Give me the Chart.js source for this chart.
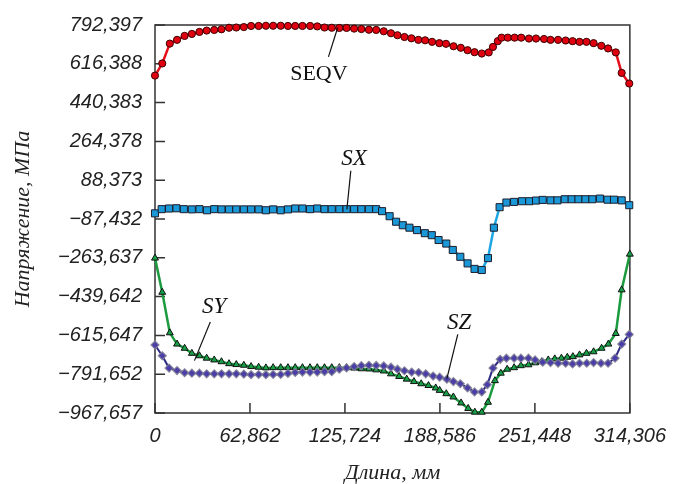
<!DOCTYPE html>
<html>
<head>
<meta charset="utf-8">
<script src="https://cdn.jsdelivr.net/npm/chart.js@4.4.0/dist/chart.umd.min.js"></script>
<style>
  html, body { margin: 0; padding: 0; background: #fff; }
  #wrap { width: 677px; height: 484px; }
</style>
</head>
<body>
<div id="wrap"><canvas id="stressChart" width="677" height="484"></canvas></div>
<script>
// tick labels as printed on the original figure
const xTickLabels = ['0', '62,862', '125,724', '188,586', '251,448', '314,306'];
const yTickLabels = ['−967,657', '−791,652', '−615,647', '−439,642', '−263,637', '−87,432',
                     '88,373', '264,378', '440,383', '616,388', '792,397'];
const xMin = 0, xMax = 314.306;
const yMin = -967.657, yMax = 792.397;

// SEQV
const seqvX = [0, 4.8, 9.8, 14.6, 19.6, 24.4, 29.4, 34.2, 39.2, 44.0, 49.0, 53.8, 58.8, 63.6, 68.6,
  73.4, 78.2, 83.2, 88.0, 92.8, 97.6, 102.7, 107.4, 112.2, 117.0, 122.0, 126.8, 131.8, 136.6, 141.6,
  146.4, 151.4, 156.2, 160.5, 165.1, 169.7, 174.3, 178.8, 183.4, 188.2, 192.6, 197.6, 202.4, 206.9,
  211.5, 216.3, 220.9, 223.7, 226.9, 229.4, 233.5, 238.0, 242.4, 247.5, 252.2, 257.5, 261.8, 266.8,
  271.8, 276.4, 281.0, 285.6, 290.3, 295.4, 299.9, 305.0, 308.9, 313.9];
const seqvY = [563, 618, 708, 725, 743, 752, 761, 767, 770, 773, 780, 781, 783, 788, 788,
  789, 789, 789, 788, 788, 788, 788, 786, 781, 780, 779, 779, 776, 774, 771,
  770, 764, 755, 746, 738, 732, 725, 723, 716, 710, 707, 696, 689, 678,
  669, 663, 668, 693, 719, 735, 735, 735, 735, 731, 731, 729, 725, 725,
  722, 719, 716, 716, 710, 698, 686, 668, 575, 527];

// SX
const sxX = [0, 4.4, 9.3, 14.2, 19.1, 24.4, 29.4, 34.4, 39.2, 44.0, 49.0, 53.8, 58.8, 63.6, 68.6,
  73.4, 78.2, 83.2, 88.0, 92.8, 97.6, 102.6, 107.4, 112.2, 117.0, 122.0, 126.8, 131.8, 136.6, 141.6,
  146.4, 150.3, 155.3, 159.6, 164.0, 168.4, 173.4, 178.6, 183.2, 187.7, 192.8, 197.1, 202.1, 206.9,
  211.5, 216.3, 220.4, 224.3, 228.1, 232.6, 237.7, 242.9, 247.7, 252.2, 256.6, 261.8, 266.4, 271.2,
  275.8, 280.3, 284.9, 289.5, 294.5, 299.5, 303.8, 308.9, 313.9];
const sxY = [-62, -43, -40, -39, -43, -44, -43, -48, -43, -44, -44, -44, -44, -44, -44,
  -48, -44, -48, -44, -40, -40, -43, -40, -43, -43, -43, -43, -43, -43, -43,
  -43, -52, -75, -100, -116, -127, -138, -152, -161, -183, -199, -228, -259, -289,
  -314, -319, -265, -127, -34, -13, -10, -7, -7, -4, -1, -3, -3, 2,
  2, 2, 2, 2, 5, 0, 0, -3, -25];

// SY
const syX = [0, 4.8, 9.8, 14.6, 19.6, 24.4, 29.4, 34.2, 39.2, 44.0, 49.0, 53.8, 58.8, 63.6, 68.6,
  73.4, 78.2, 83.2, 88.0, 92.8, 97.6, 102.6, 107.4, 112.2, 117.0, 122.0, 126.8, 131.8, 136.6, 141.6,
  146.4, 151.4, 156.2, 161.6, 166.6, 171.4, 176.2, 181.0, 185.8, 188.4, 192.8, 197.5, 202.6, 207.3,
  211.7, 216.3, 220.4, 225.0, 228.9, 233.1, 237.7, 242.2, 247.2, 251.6, 256.0, 260.3, 264.6, 269.0,
  272.9, 276.6, 281.0, 285.6, 290.3, 295.6, 300.1, 305.0, 308.9, 314.3];
const syY = [-265, -420, -604, -655, -674, -697, -708, -719, -727, -735, -744, -748, -751, -757, -760,
  -763, -762, -762, -762, -762, -762, -762, -762, -762, -762, -762, -762, -764, -767, -768,
  -772, -777, -790, -802, -814, -825, -835, -843, -854, -865, -880, -895, -922, -947,
  -964, -964, -919, -821, -787, -769, -762, -753, -749, -740, -735, -727, -722, -719,
  -715, -712, -704, -697, -690, -674, -655, -607, -409, -247];

// SZ
const szX = [0, 4.8, 9.3, 14.6, 19.6, 24.4, 29.4, 34.2, 39.2, 44.0, 49.0, 53.8, 58.8, 63.6, 68.6,
  73.4, 78.2, 83.2, 88.0, 92.8, 97.6, 102.6, 107.4, 112.2, 117.0, 122.0, 126.8, 131.8, 136.6, 141.6,
  146.4, 151.4, 156.2, 160.5, 165.1, 169.9, 174.5, 179.2, 184.1, 188.4, 193.2, 197.5, 202.1, 206.9,
  211.5, 216.3, 220.0, 223.7, 228.5, 232.6, 237.7, 242.2, 247.2, 251.6, 256.6, 261.8, 266.8, 271.8,
  276.4, 281.0, 285.8, 290.3, 295.2, 299.9, 304.5, 308.9, 313.9];
const szY = [-659, -708, -764, -775, -785, -787, -787, -790, -790, -790, -790, -790, -791, -794, -793,
  -794, -793, -793, -788, -784, -782, -782, -782, -780, -780, -769, -763, -757, -753, -751,
  -752, -754, -760, -769, -776, -782, -784, -790, -800, -805, -814, -825, -835, -854,
  -872, -872, -839, -764, -724, -719, -719, -719, -719, -727, -737, -739, -742, -742,
  -745, -742, -742, -739, -742, -742, -719, -655, -611];

// curve labels with leader lines (data units)
const curveLabels = [
  { text: 'SEQV', italic: false, x: 108.5, y: 570, from: [114.8, 648], to: [120.9, 780] },
  { text: 'SX', italic: true, x: 131.8, y: 186, from: [129.6, 131], to: [127.0, -44] },
  { text: 'SY', italic: true, x: 39.2, y: -486, from: [36.6, -555], to: [26.1, -730] },
  { text: 'SZ', italic: true, x: 201.3, y: -560, from: [200.4, -611], to: [193.2, -812] }
];

function pts(xs, ys) { return xs.map((x, i) => ({ x: x, y: ys[i] })); }

const framePlugin = {
  id: 'frame',
  beforeDatasetsDraw(chart) {
    const { ctx, chartArea: a, scales } = chart;
    ctx.save();
    ctx.strokeStyle = '#333';
    ctx.lineWidth = 1.5;
    ctx.strokeRect(a.left, a.top, a.right - a.left, a.bottom - a.top);
    ctx.beginPath();
    scales.y.ticks.forEach(t => {
      const py = scales.y.getPixelForValue(t.value);
      ctx.moveTo(a.left, py); ctx.lineTo(a.left + 10, py);
    });
    scales.x.ticks.forEach(t => {
      const px = scales.x.getPixelForValue(t.value);
      ctx.moveTo(px, a.bottom); ctx.lineTo(px, a.bottom - 10);
    });
    ctx.stroke();
    ctx.restore();
  },
  afterDatasetsDraw(chart) {
    const { ctx, scales: { x, y } } = chart;
    ctx.save();
    curveLabels.forEach(l => {
      ctx.strokeStyle = '#111';
      ctx.lineWidth = 1.2;
      ctx.beginPath();
      ctx.moveTo(x.getPixelForValue(l.from[0]), y.getPixelForValue(l.from[1]));
      ctx.lineTo(x.getPixelForValue(l.to[0]), y.getPixelForValue(l.to[1]));
      ctx.stroke();
      ctx.fillStyle = '#111';
      ctx.font = (l.italic ? 'italic 23px' : '22px') + ' "Liberation Serif", serif';
      ctx.textAlign = 'center';
      ctx.textBaseline = 'middle';
      ctx.fillText(l.text, x.getPixelForValue(l.x), y.getPixelForValue(l.y));
    });
    ctx.restore();
  }
};

const tickFont = { family: '"Liberation Sans", Arial, sans-serif', size: 20, style: 'italic' };
const titleFont = { family: '"Liberation Serif", "Times New Roman", serif', size: 22, style: 'italic', lineHeight: 1 };

new Chart(document.getElementById('stressChart'), {
  type: 'line',
  data: {
    datasets: [
      {
        label: 'SZ', data: pts(szX, szY), order: 1, clip: false,
        borderColor: '#2e2a86', borderWidth: 2,
        pointStyle: 'rectRot', pointRadius: 4, pointBackgroundColor: '#4b3ea8',
        pointBorderColor: 'rgba(130,130,150,0.9)', pointBorderWidth: 1.2
      },
      {
        label: 'SY', data: pts(syX, syY), order: 2, clip: false,
        borderColor: '#1b9a3e', borderWidth: 2.5,
        pointStyle: 'triangle', pointRadius: 4, pointBackgroundColor: '#17a047',
        pointBorderColor: '#111', pointBorderWidth: 1
      },
      {
        label: 'SX', data: pts(sxX, sxY), order: 3, clip: false,
        borderColor: '#1ea6e4', borderWidth: 2.5,
        pointStyle: 'rect', pointRadius: 5, pointBackgroundColor: '#1a98d8',
        pointBorderColor: '#1c1c2a', pointBorderWidth: 1
      },
      {
        label: 'SEQV', data: pts(seqvX, seqvY), order: 4, clip: false,
        borderColor: '#e5101c', borderWidth: 2.5,
        pointStyle: 'circle', pointRadius: 3.6, pointBackgroundColor: '#e0000f',
        pointBorderColor: '#3a0000', pointBorderWidth: 1
      }
    ]
  },
  options: {
    responsive: false,
    animation: false,
    devicePixelRatio: 1,
    layout: { padding: { top: 22, right: 41, left: 0, bottom: 0 } },
    plugins: { legend: { display: false }, tooltip: { enabled: false } },
    elements: { line: { tension: 0 } },
    scales: {
      x: {
        type: 'linear', min: xMin, max: xMax,
        grid: { display: false, drawTicks: false },
        border: { display: false },
        afterFit: s => { s.height = 71; },
        afterBuildTicks: s => { s.ticks = xTickLabels.map((_, i) => ({ value: xMin + i * (xMax - xMin) / 5 })); },
        ticks: {
          autoSkip: false, maxRotation: 0, padding: 11, color: '#222', font: tickFont,
          callback: (v, i) => xTickLabels[i]
        },
        title: { display: true, text: 'Длина, мм', color: '#222', font: titleFont, padding: { top: 0, bottom: 0 } }
      },
      y: {
        type: 'linear', min: yMin, max: yMax,
        grid: { display: false, drawTicks: false },
        border: { display: false },
        afterFit: s => { s.width = 155; },
        afterBuildTicks: s => { s.ticks = yTickLabels.map((_, i) => ({ value: yMin + i * (yMax - yMin) / 10 })); },
        ticks: {
          autoSkip: false, padding: 13, color: '#222', font: tickFont,
          callback: (v, i) => yTickLabels[i]
        },
        title: { display: true, text: 'Напряжение, МПа', color: '#222', font: titleFont, padding: { top: 12, bottom: 0 } }
      }
    }
  },
  plugins: [framePlugin]
});
</script>
</body>
</html>
